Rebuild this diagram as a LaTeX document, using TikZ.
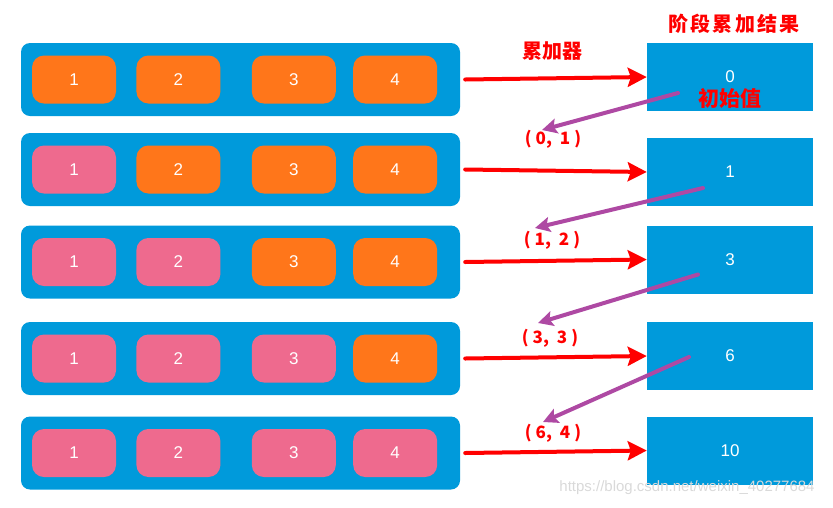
\documentclass[tikz,border=0pt]{standalone}
\usepackage{fontspec}
\setmainfont{Liberation Sans}
\newfontfamily\cjk{Noto Sans CJK SC}
\newfontfamily\cjkwide{Noto Sans CJK SC}[LetterSpace=12]
\usepackage{tikz}
\usetikzlibrary{arrows.meta, positioning}

\definecolor{rowblue}{RGB}{0,154,219}
\definecolor{busyorange}{RGB}{255,118,26}
\definecolor{donepink}{RGB}{238,106,142}
\definecolor{carrypurple}{RGB}{174,73,163}

\newcommand{\pairtext}[2]{(\hspace{4pt}#1,\hspace{8pt}#2\hspace{4pt})}

\begin{document}
\begin{tikzpicture}[
  x=1pt, y=-1pt,
  row_box/.style={rectangle, fill=rowblue, minimum width=439pt, minimum height=73pt, rounded corners=9pt},
  cell_box/.style={rectangle, minimum width=84pt, minimum height=48pt, rounded corners=12pt, text=white, font=\fontsize{17}{17}\selectfont, inner sep=0pt},
  busy/.style={cell_box, fill=busyorange},
  done/.style={cell_box, fill=donepink},
  sum_box/.style={rectangle, fill=rowblue, minimum width=166pt, minimum height=68pt, text=white, font=\fontsize{17}{17}\selectfont},
  red_text/.style={text=red, font=\cjk\bfseries\fontsize{20}{20}\selectfont},
  pair_text/.style={text=red, font=\cjk\bfseries\fontsize{17}{17}\selectfont, inner sep=0pt},
  add_arrow/.style={-{Stealth[length=19pt, width=19pt, inset=3pt]}, red, line width=4pt, line cap=round},
  carry_arrow/.style={-{Stealth[length=15pt, width=15pt, inset=3pt]}, carrypurple, line width=4pt, line cap=round}
]
\useasboundingbox (0,0) rectangle (833,507);

% Rows
\foreach \r/\y/\a/\b/\c/\d in {1/79.5/busy/busy/busy/busy, 2/169.5/done/busy/busy/busy, 3/262/done/done/busy/busy, 4/358.5/done/done/done/busy, 5/453/done/done/done/done}{
  \node[row_box] (row\r) at (240.5,\y) {};
  \node[\a, right=11pt of row\r.west] (c\r1) {1};
  \node[\b, right=20pt of c\r1] (c\r2) {2};
  \node[\c, right=31pt of c\r2] (c\r3) {3};
  \node[\d, right=17pt of c\r3] (c\r4) {4};
}

% Results
\node[sum_box] (sum1) at (730,77) {0};
\node[sum_box] (sum2) at (730,172) {1};
\node[sum_box] (sum3) at (730,259.5) {3};
\node[sum_box] (sum4) at (730,356) {6};
\node[sum_box] (sum5) at (730,450.5) {10};

% Labels
\node[red_text, font=\cjkwide\bfseries\fontsize{20}{20}\selectfont] (title) at (734,24) {阶段累加结果};
\node[red_text] (adder) at (552,51) {累加器};
\node[red_text, font=\cjk\bfseries\fontsize{21}{21}\selectfont] (init) at (730,98) {初始值};
\node[pair_text] (p1) at (553,139) {\pairtext{0}{1}};
\node[pair_text] (p2) at (552,240) {\pairtext{1}{2}};
\node[pair_text] (p3) at (550,338) {\pairtext{3}{3}};
\node[pair_text] (p4) at (553,433) {\pairtext{6}{4}};
\node[text=gray!30, font=\fontsize{15}{15}\selectfont] (mark) at (687,488) {https://blog.csdn.net/weixin\_40277684};

% Arrows
\foreach \r in {1,...,5}{
  \draw[add_arrow] ([xshift=5pt]row\r.east) -- (sum\r.west);
}
\draw[carry_arrow] ([shift={(-52pt,-16pt)}]sum1.center) -- ([shift={(-11pt,9pt)}]p1.center);
\draw[carry_arrow] ([shift={(-27pt,-16pt)}]sum2.center) -- ([shift={(-17pt,12pt)}]p2.center);
\draw[carry_arrow] ([shift={(-32pt,-15pt)}]sum3.center) -- ([shift={(-12pt,15pt)}]p3.center);
\draw[carry_arrow] ([shift={(-41pt,-1pt)}]sum4.center) -- ([shift={(-10pt,11pt)}]p4.center);

\end{tikzpicture}
\end{document}
